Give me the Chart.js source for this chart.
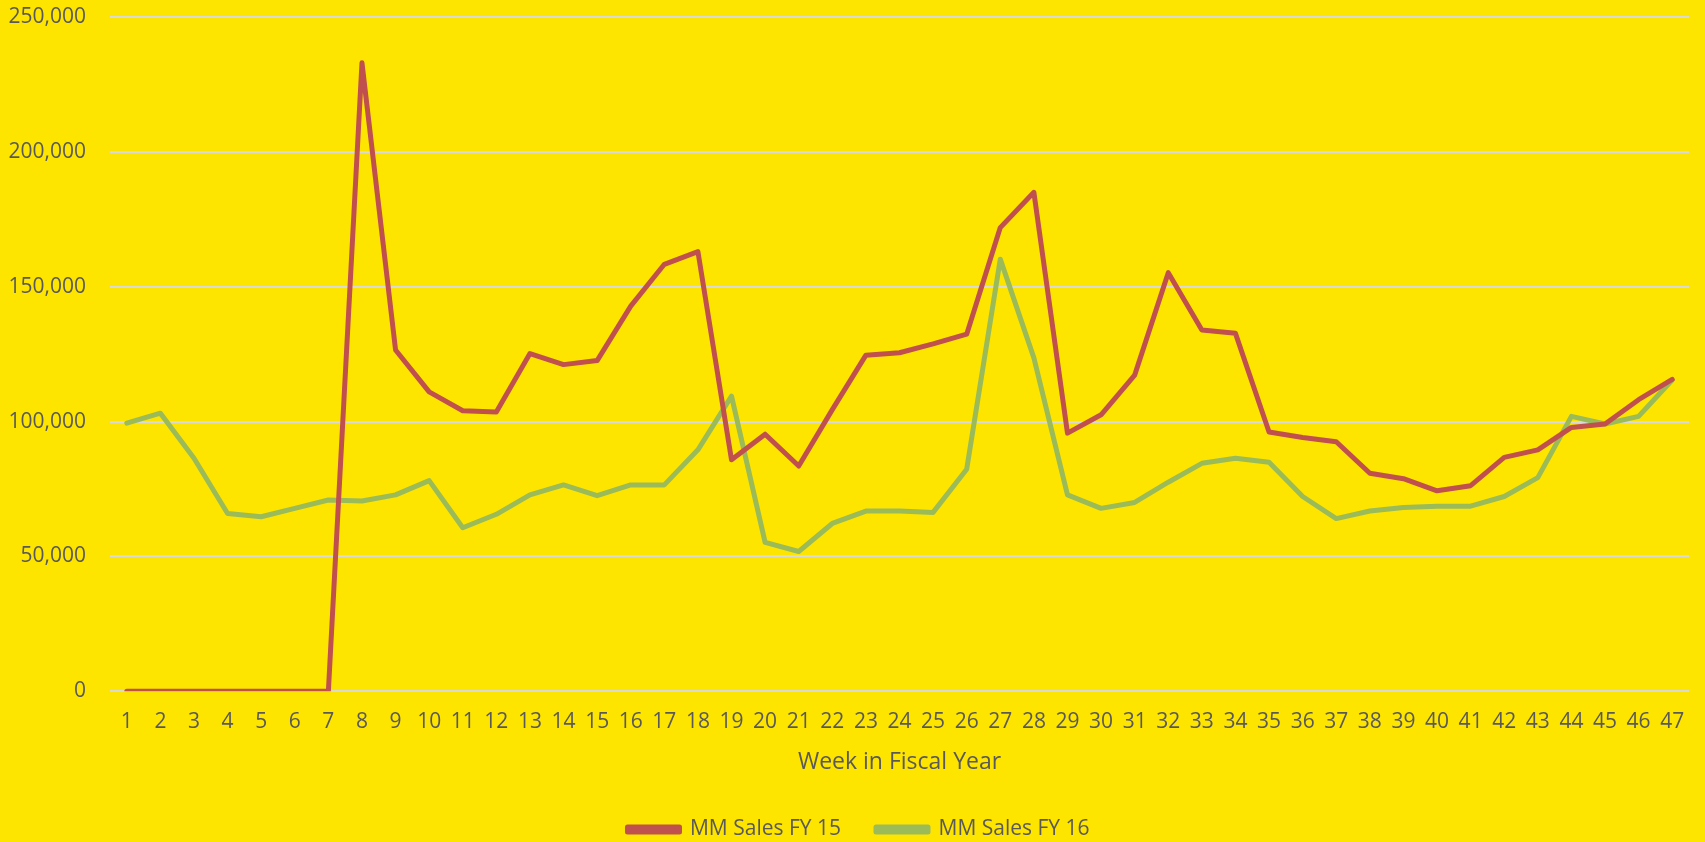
<!DOCTYPE html>
<html>
<head>
<meta charset="utf-8">
<script src="https://cdn.jsdelivr.net/npm/chart.js@4.4.1/dist/chart.umd.min.js"></script>
<style>
  html, body { margin: 0; padding: 0; background: #FEE500; }
  #wrap { width: 1705px; height: 842px; background: #FEE500; overflow: hidden; }
</style>
</head>
<body>
<div id="wrap"><canvas id="c" width="1705" height="842"></canvas></div>
<script>
const weeks = ["1","2","3","4","5","6","7","8","9","10","11","12","13","14","15","16","17","18","19","20","21","22","23","24","25","26","27","28","29","30","31","32","33","34","35","36","37","38","39","40","41","42","43","44","45","46","47"];
const salesFY15 = [0,0,0,0,0,0,0,233000,126500,111000,104000,103500,125200,121100,122600,142800,158300,163000,85800,95300,83500,104400,124600,125500,128800,132400,171900,185000,95700,102500,117200,155200,133900,132700,96100,94100,92500,80800,78800,74300,76200,86700,89500,97800,99100,108100,115600];
const salesFY16 = [99400,103100,86400,65900,64700,67800,70900,70500,72800,78100,60600,65600,72800,76500,72500,76500,76500,89500,109400,55200,51800,62200,66800,66800,66300,82300,160200,123600,72800,67800,70000,77500,84500,86400,84900,72200,64000,66800,68100,68600,68600,72200,79200,101900,99100,101900,115400];
const seriesNames = ["MM Sales FY 15", "MM Sales FY 16"];
const yTicks = [0, 50000, 100000, 150000, 200000, 250000];

const textColor = "#595959";
const fontFamily = "'Open Sans', 'Liberation Sans', sans-serif";

// shift the legend a little to the right, as in the original
const legendShift = {
  id: "legendShift",
  afterLayout(chart) {
    if (chart.legend) { chart.legend.left += 14; chart.legend.right += 14; }
  }
};

new Chart(document.getElementById("c"), {
  type: "line",
  data: {
    labels: weeks,
    datasets: [
      { label: seriesNames[0], data: salesFY15, borderColor: "#C0504D", backgroundColor: "#C0504D",
        borderWidth: 5, pointRadius: 0, tension: 0, borderJoinStyle: "round", borderCapStyle: "round" },
      { label: seriesNames[1], data: salesFY16, borderColor: "#9BBB59", backgroundColor: "#9BBB59",
        borderWidth: 5, pointRadius: 0, tension: 0, borderJoinStyle: "round", borderCapStyle: "round" }
    ]
  },
  plugins: [legendShift],
  options: {
    responsive: false,
    animation: false,
    layout: { padding: { left: 0, right: 16, top: 17, bottom: -8 } },
    plugins: {
      legend: {
        position: "bottom",
        labels: { color: textColor, font: { family: fontFamily, size: 21 }, boxWidth: 52, boxHeight: 5, padding: 35 }
      },
      tooltip: { enabled: false }
    },
    scales: {
      x: {
        offset: true,
        grid: { display: false },
        border: { display: false },
        ticks: { color: textColor, font: { family: fontFamily, size: 21 }, padding: 10, maxRotation: 0, autoSkip: false },
        title: { display: true, text: "Week in Fiscal Year", color: textColor, font: { family: fontFamily, size: 23 }, padding: { top: 4, bottom: 8 } }
      },
      y: {
        min: yTicks[0],
        max: yTicks[yTicks.length - 1],
        afterBuildTicks: (scale) => { scale.ticks = yTicks.map(v => ({ value: v })); },
        afterFit: (scale) => { scale.width = 110; scale.paddingTop = 0; scale.paddingBottom = 0; },
        grid: { color: "#D9D9D9", lineWidth: 2, drawTicks: false },
        border: { display: false },
        ticks: { color: textColor, font: { family: fontFamily, size: 21 }, padding: 24,
          callback: (v) => v.toLocaleString("en-US") }
      }
    }
  }
});
</script>
</body>
</html>
